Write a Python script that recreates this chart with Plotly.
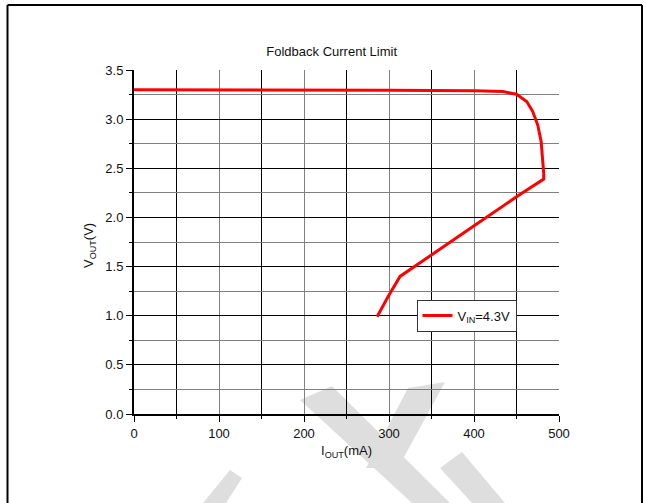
import plotly.graph_objects as go

# ---- data ----
i_out_mA = [0, 100, 200, 300, 400, 420, 434, 450, 462, 469, 475, 479, 481, 482, 482,
            450, 401, 350, 313, 299, 286]
v_out_V = [3.30, 3.30, 3.295, 3.293, 3.29, 3.287, 3.28, 3.253, 3.18, 3.08, 2.94, 2.77,
           2.60, 2.45, 2.39, 2.21, 1.92, 1.62, 1.40, 1.195, 0.99]
series_name = "V<sub>IN</sub>=4.3V"
chart_title = "Foldback Current Limit"
x_title = "I<sub>OUT</sub>(mA)"
y_title = "V<sub>OUT</sub>(V)"

W, H = 646, 503
ML, MR, MT, MB = 134, 87, 70, 89
PW, PH = W - ML - MR, H - MT - MB
FONT = "Liberation Sans, Arial, sans-serif"
FS = 13
TXT = "#111"


def px(x):
    return (x - ML) / PW


def py(y):
    return (H - MB - y) / PH


fig = go.Figure()
fig.add_trace(go.Scatter(x=i_out_mA, y=v_out_V, mode="lines", name=series_name,
                         line=dict(color="#ff0000", width=3), showlegend=True))

shapes = []
# light grey watermark (decoration)
wm = [
    [(300, 400), (332, 386), (450, 503), (412, 503)],
    [(408, 388), (445, 382), (398, 468), (366, 468)],
    [(440, 468), (462, 452), (505, 503), (472, 503)],
    [(203, 503), (230, 470), (242, 478), (226, 503)],
]
for poly in wm:
    path = "M " + " L ".join(f"{px(a):.4f},{py(b):.4f}" for a, b in poly) + " Z"
    shapes.append(dict(type="path", xref="paper", yref="paper", path=path,
                       fillcolor="#dedede", line=dict(width=0), layer="below"))
# outer frame
fl, fr, ft, fb = 7.5, 642, 5, 510
for x0, y0, x1, y1 in [(fl, ft, fr, ft), (fl, ft, fl, fb), (fr, ft, fr, fb)]:
    shapes.append(dict(type="line", xref="paper", yref="paper",
                       x0=px(x0), y0=py(y0), x1=px(x1), y1=py(y1),
                       line=dict(color="black", width=2)))

fig.update_layout(
    width=W, height=H,
    margin=dict(l=ML, r=MR, t=MT, b=MB, pad=0),
    paper_bgcolor="white", plot_bgcolor="rgba(0,0,0,0)",
    font=dict(family=FONT, size=FS, color=TXT),
    title=dict(text=chart_title, x=331.7 / W, y=1 - 51 / H, xanchor="center",
               yanchor="middle", font=dict(family=FONT, size=FS, color=TXT)),
    showlegend=True,
    legend=dict(x=px(416.5), y=py(299.5), xanchor="left", yanchor="top",
                bgcolor="white", bordercolor="#333", borderwidth=1,
                font=dict(family=FONT, size=FS, color=TXT),
                itemwidth=30, tracegroupgap=0),
    shapes=shapes,
    annotations=[
        dict(text=x_title, xref="paper", yref="paper", x=px(346.5), y=py(451),
             xanchor="center", yanchor="middle", showarrow=False,
             font=dict(family=FONT, size=FS, color=TXT)),
        dict(text=y_title, xref="paper", yref="paper", x=px(89), y=py(246),
             xanchor="center", yanchor="middle", showarrow=False, textangle=-90,
             font=dict(family=FONT, size=FS, color=TXT)),
    ],
)

fig.update_xaxes(range=[0, 500], tick0=0, dtick=100, showgrid=True, gridcolor="#808080",
                 gridwidth=1, zeroline=False, showline=True, linecolor="black", linewidth=2,
                 ticks="outside", ticklen=6, tickcolor="black", tickwidth=1,
                 tickfont=dict(family=FONT, size=FS, color=TXT),
                 minor=dict(dtick=50, showgrid=True, gridcolor="black", gridwidth=1,
                            ticks="outside", ticklen=3, tickcolor="black"))
fig.update_yaxes(range=[0, 3.5], tick0=0, dtick=0.5, tickformat=".1f", showgrid=True,
                 gridcolor="black", gridwidth=1, zeroline=False, showline=True,
                 linecolor="black", linewidth=2, ticks="outside", ticklen=6,
                 tickcolor="black", tickwidth=1,
                 tickfont=dict(family=FONT, size=FS, color=TXT),
                 minor=dict(dtick=0.25, showgrid=True, gridcolor="#808080", gridwidth=1,
                            ticks="outside", ticklen=3, tickcolor="black"))

fig.write_html("out.html")
